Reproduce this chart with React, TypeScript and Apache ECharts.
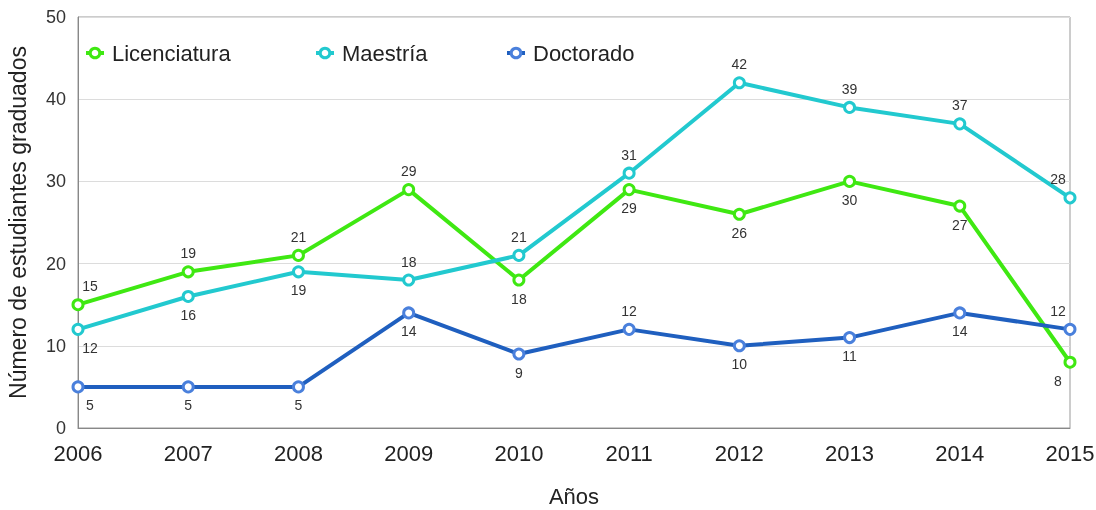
import React, { useEffect, useRef } from "react";
import * as echarts from "echarts";

const years = ["2006", "2007", "2008", "2009", "2010", "2011", "2012", "2013", "2014", "2015"];
const licenciatura = [15, 19, 21, 29, 18, 29, 26, 30, 27, 8];
const maestria = [12, 16, 19, 18, 21, 31, 42, 39, 37, 28];
const doctorado = [5, 5, 5, 14, 9, 12, 10, 11, 14, 12];

// label placement per point: "t" top, "b" bottom
const licPos = ["t", "t", "t", "t", "b", "b", "b", "b", "b", "b"];
const maePos = ["b", "b", "b", "t", "t", "t", "t", "t", "t", "t"];
const docPos = ["b", "b", "b", "b", "b", "t", "b", "b", "b", "t"];

const FONT = "Liberation Sans";

function buildData(vals: number[], pos: string[]) {
  return vals.map((v, i) => {
    const last = i === vals.length - 1;
    const first = i === 0;
    const dx = first ? 12 : last ? -12 : 0;
    return {
      value: v,
      label: {
        position: pos[i] === "t" ? "top" : "bottom",
        offset: [dx, 0],
        distance: 5,
      },
    };
  });
}

export default function App() {
  const ref = useRef<HTMLDivElement>(null);
  useEffect(() => {
    if (!ref.current) return;
    const chart = echarts.init(ref.current, undefined, { renderer: "svg" });
    const mkSeries = (name: string, vals: number[], pos: string[], line: string, marker: string) => ({
      name,
      type: "line",
      data: buildData(vals, pos),
      symbol: "circle",
      symbolSize: 10,
      showAllSymbol: true,
      lineStyle: { color: line, width: 4 },
      itemStyle: { color: "#ffffff", borderColor: marker, borderWidth: 3 },
      label: { show: true, color: "#333", fontSize: 14, fontFamily: FONT },
      emphasis: { disabled: true },
    });
    chart.setOption({
      animation: false,
      color: ["#3fe812", "#22c9cf", "#3a74d6"],
      grid: {
        left: 78,
        right: 26,
        top: 17,
        bottom: 82,
        containLabel: false,
        outerBoundsMode: "none",
        show: true,
        borderColor: "#999",
        borderWidth: 1,
      },
      legend: [
        { data: ["Licenciatura"], left: 79, top: 37 },
        { data: ["Maestría"], left: 309, top: 37 },
        { data: ["Doctorado"], left: 500, top: 37 },
      ].map((l) => ({
        ...l,
        itemWidth: 18,
        itemHeight: 12,
        itemGap: 0,
        lineStyle: { width: 4 },
        itemStyle: { borderWidth: 3 },
        textStyle: { fontSize: 22, color: "#222", fontFamily: FONT, padding: [0, 0, 0, 3] },
      })),
      xAxis: {
        type: "category",
        data: years,
        boundaryGap: false,
        name: "Años",
        nameLocation: "middle",
        nameGap: 57,
        nameTextStyle: { fontSize: 22, color: "#222", fontFamily: FONT },
        axisLine: { lineStyle: { color: "#888" } },
        axisTick: { show: false },
        axisLabel: { fontSize: 22, color: "#222", fontFamily: FONT, margin: 14 },
        splitLine: { show: false },
      },
      yAxis: {
        type: "value",
        min: 0,
        max: 50,
        interval: 10,
        name: "Número de estudiantes graduados",
        nameLocation: "middle",
        nameGap: 49,
        nameTextStyle: { fontSize: 23, color: "#222", fontFamily: FONT },
        axisLine: { show: true, lineStyle: { color: "#888" } },
        axisTick: { show: false },
        axisLabel: { fontSize: 18, color: "#333", fontFamily: FONT, margin: 12 },
        splitLine: { lineStyle: { color: "#dcdcdc" } },
      },
      series: [
        mkSeries("Licenciatura", licenciatura, licPos, "#3fe812", "#3fe812"),
        mkSeries("Maestría", maestria, maePos, "#22c9cf", "#22c9cf"),
        mkSeries("Doctorado", doctorado, docPos, "#1f5fbf", "#4a80dc"),
      ],
    });
    return () => chart.dispose();
  }, []);
  return <div ref={ref} style={{ position: "fixed", left: 0, top: 0, width: 1096, height: 510 }} />;
}
